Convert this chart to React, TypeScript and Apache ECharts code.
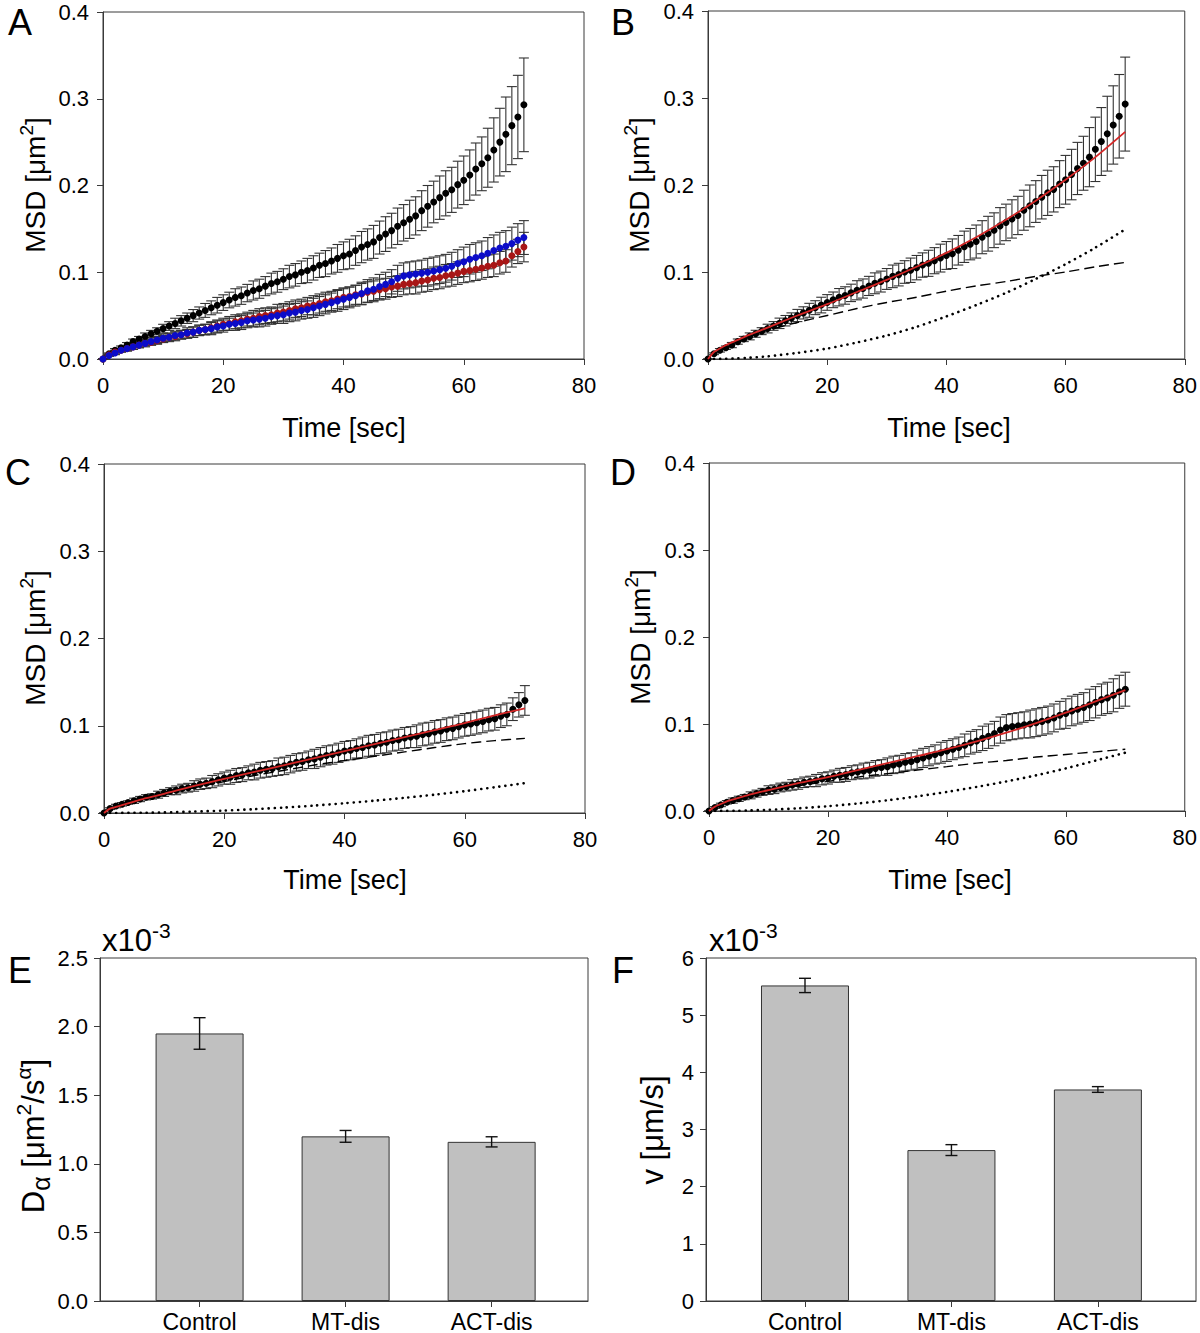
import React, { useEffect, useRef } from 'react';
import * as echarts from 'echarts';

const FONT = "'Liberation Sans', Arial, Helvetica, sans-serif";

// time points (s)
const TIME = [0, 1, 2, 3, 4, 5, 6, 7, 8, 9, 10, 11, 12, 13, 14, 15, 16, 17, 18, 19, 20, 21, 22, 23, 24, 25, 26, 27, 28, 29, 30, 31, 32, 33, 34, 35, 36, 37, 38, 39, 40, 41, 42, 43, 44, 45, 46, 47, 48, 49, 50, 51, 52, 53, 54, 55, 56, 57, 58, 59, 60, 61, 62, 63, 64, 65, 66, 67, 68, 69, 70];

// MSD means (um^2)
const MSD_CONTROL = [0, 0.006, 0.010, 0.013, 0.016, 0.020, 0.023, 0.026, 0.029, 0.032,
  0.035, 0.038, 0.041, 0.044, 0.047, 0.050, 0.053, 0.056, 0.059, 0.062,
  0.065, 0.068, 0.071, 0.073, 0.076, 0.079, 0.081, 0.084, 0.087, 0.089,
  0.092, 0.095, 0.097, 0.100, 0.102, 0.105, 0.108, 0.110, 0.113, 0.116,
  0.119, 0.121, 0.125, 0.129, 0.132, 0.135, 0.140, 0.144, 0.148, 0.153,
  0.157, 0.161, 0.165, 0.171, 0.176, 0.181, 0.186, 0.191, 0.195, 0.201,
  0.206, 0.212, 0.219, 0.225, 0.232, 0.241, 0.250, 0.259, 0.269, 0.279,
  0.293];
const ERR_CONTROL = [0, 0.001, 0.002, 0.002, 0.003, 0.003, 0.003, 0.004, 0.004, 0.004,
  0.005, 0.005, 0.006, 0.006, 0.006, 0.007, 0.007, 0.008, 0.008, 0.009,
  0.009, 0.009, 0.010, 0.010, 0.010, 0.011, 0.011, 0.011, 0.012, 0.012,
  0.012, 0.013, 0.013, 0.013, 0.014, 0.014, 0.014, 0.015, 0.015, 0.016,
  0.016, 0.017, 0.017, 0.018, 0.018, 0.019, 0.019, 0.020, 0.020, 0.021,
  0.021, 0.022, 0.022, 0.023, 0.024, 0.024, 0.025, 0.026, 0.026, 0.027,
  0.028, 0.029, 0.030, 0.031, 0.034, 0.037, 0.039, 0.043, 0.045, 0.048,
  0.054];

const MSD_MT = [0, 0.004, 0.007, 0.010, 0.012, 0.014, 0.016, 0.018, 0.020, 0.022,
  0.024, 0.025, 0.027, 0.028, 0.030, 0.031, 0.033, 0.034, 0.035, 0.037,
  0.038, 0.040, 0.041, 0.042, 0.044, 0.045, 0.046, 0.047, 0.049, 0.050,
  0.051, 0.053, 0.054, 0.056, 0.057, 0.059, 0.061, 0.063, 0.065, 0.067,
  0.069, 0.071, 0.073, 0.0755, 0.0785, 0.0805, 0.0835, 0.086, 0.089, 0.093,
  0.0958, 0.097, 0.098, 0.099, 0.100, 0.1015, 0.103, 0.1046, 0.107, 0.110,
  0.112, 0.115, 0.117, 0.119, 0.122, 0.125, 0.128, 0.130, 0.133, 0.137,
  0.140];
const ERR_MT = [0, 0.001, 0.002, 0.002, 0.003, 0.003, 0.003, 0.004, 0.004, 0.004,
  0.005, 0.005, 0.005, 0.005, 0.006, 0.006, 0.006, 0.006, 0.007, 0.007,
  0.007, 0.007, 0.008, 0.008, 0.008, 0.008, 0.009, 0.009, 0.009, 0.009,
  0.010, 0.010, 0.010, 0.010, 0.010, 0.011, 0.011, 0.011, 0.011, 0.012,
  0.012, 0.012, 0.012, 0.013, 0.013, 0.013, 0.014, 0.014, 0.014, 0.015,
  0.015, 0.015, 0.015, 0.015, 0.016, 0.016, 0.016, 0.016, 0.016, 0.016,
  0.017, 0.017, 0.017, 0.017, 0.018, 0.018, 0.018, 0.018, 0.019, 0.019,
  0.0195];

const MSD_ACT = [0, 0.005, 0.008, 0.010, 0.012, 0.014, 0.016, 0.018, 0.019, 0.021,
  0.023, 0.025, 0.026, 0.028, 0.029, 0.031, 0.033, 0.034, 0.036, 0.038,
  0.040, 0.041, 0.043, 0.044, 0.046, 0.047, 0.049, 0.050, 0.051, 0.053,
  0.054, 0.056, 0.058, 0.059, 0.061, 0.062, 0.064, 0.066, 0.067, 0.069,
  0.071, 0.072, 0.074, 0.075, 0.077, 0.078, 0.080, 0.081, 0.083, 0.084,
  0.086, 0.087, 0.088, 0.090, 0.091, 0.093, 0.094, 0.096, 0.097, 0.099,
  0.101, 0.102, 0.1035, 0.105, 0.107, 0.108, 0.111, 0.113, 0.119, 0.124,
  0.129];
const ERR_ACT = [0, 0.001, 0.002, 0.002, 0.002, 0.003, 0.003, 0.003, 0.003, 0.004,
  0.004, 0.004, 0.005, 0.005, 0.005, 0.006, 0.006, 0.006, 0.007, 0.007,
  0.007, 0.008, 0.008, 0.008, 0.008, 0.009, 0.009, 0.009, 0.009, 0.010,
  0.010, 0.010, 0.010, 0.010, 0.010, 0.011, 0.011, 0.011, 0.011, 0.011,
  0.011, 0.011, 0.011, 0.012, 0.012, 0.012, 0.012, 0.012, 0.012, 0.012,
  0.012, 0.012, 0.013, 0.013, 0.013, 0.013, 0.013, 0.013, 0.013, 0.013,
  0.013, 0.013, 0.013, 0.013, 0.013, 0.013, 0.013, 0.013, 0.013, 0.014,
  0.017];

// fit curves (sampled times)
const FIT_T = [0, 1, 2, 3, 5, 7, 10, 15, 20, 25, 30, 35, 40, 45, 50, 55, 60, 65, 70];
const FIT_B = [0, 0.008, 0.012, 0.016, 0.022, 0.028, 0.036, 0.050, 0.063, 0.077, 0.091, 0.106, 0.122, 0.140, 0.160, 0.182, 0.206, 0.232, 0.261];
const DIFF_B = [0, 0.008, 0.012, 0.016, 0.021, 0.026, 0.033, 0.042, 0.050, 0.058, 0.065, 0.071, 0.078, 0.084, 0.089, 0.095, 0.100, 0.106, 0.111];
const DIR_B = [0, 0, 0.0001, 0.0003, 0.0008, 0.0015, 0.003, 0.007, 0.012, 0.019, 0.027, 0.037, 0.049, 0.062, 0.076, 0.092, 0.109, 0.128, 0.149];
const FIT_C = [0, 0.005, 0.007, 0.009, 0.013, 0.017, 0.022, 0.031, 0.039, 0.047, 0.055, 0.063, 0.071, 0.079, 0.087, 0.095, 0.103, 0.112, 0.120];
const DIFF_C = [0, 0.005, 0.007, 0.009, 0.013, 0.016, 0.021, 0.029, 0.036, 0.043, 0.049, 0.055, 0.060, 0.065, 0.070, 0.075, 0.0795, 0.083, 0.0855];
const DIR_C = [0, 0, 0, 0.0001, 0.0002, 0.0003, 0.0007, 0.0016, 0.0028, 0.0044, 0.0063, 0.0085, 0.0112, 0.0141, 0.0174, 0.021, 0.025, 0.0295, 0.0342];
const FIT_D = [0, 0.005, 0.008, 0.011, 0.015, 0.019, 0.024, 0.032, 0.039, 0.047, 0.055, 0.063, 0.071, 0.080, 0.090, 0.101, 0.113, 0.126, 0.139];
const DIFF_D = [0, 0.006, 0.009, 0.011, 0.015, 0.018, 0.0225, 0.029, 0.034, 0.039, 0.043, 0.047, 0.051, 0.055, 0.058, 0.062, 0.065, 0.068, 0.071];
const DIR_D = [0, 0, 0.0001, 0.0001, 0.0003, 0.0007, 0.0014, 0.0031, 0.0055, 0.0086, 0.0123, 0.0168, 0.0219, 0.0277, 0.034, 0.041, 0.049, 0.058, 0.067];

// bar panels
const CATEGORIES = ['Control', 'MT-dis', 'ACT-dis'];
const BAR_POS = [0, 1, 2];
const D_ALPHA = [1.95, 1.20, 1.16];
const D_ALPHA_ERR = [0.115, 0.043, 0.037];
const VELOCITY = [5.52, 2.64, 3.70];
const VELOCITY_ERR = [0.125, 0.095, 0.05];

const GRIDS = [
  { left: 103, top: 12, width: 481, height: 347 },
  { left: 708, top: 11, width: 481, height: 348 },
  { left: 104, top: 464, width: 481, height: 349 },
  { left: 709, top: 463, width: 481, height: 348 },
  { left: 100, top: 958, width: 488, height: 348 },
  { left: 706, top: 958, width: 490, height: 348 },
];

const AXIS_COLOR = '#3a3a3a';
const ERR_COLOR = '#333333';

function errRender(capHalf: number, color: string, width: number) {
  return (params: any, api: any) => {
    const x = api.value(0);
    const lo = api.value(1);
    const hi = api.value(2);
    const pHi = api.coord([x, hi]);
    const pLo = api.coord([x, lo]);
    const st = { stroke: color, lineWidth: width };
    return {
      type: 'group',
      children: [
        { type: 'line', shape: { x1: pHi[0], y1: pHi[1], x2: pLo[0], y2: pLo[1] }, style: st },
        { type: 'line', shape: { x1: pHi[0] - capHalf, y1: pHi[1], x2: pHi[0] + capHalf, y2: pHi[1] }, style: st },
        { type: 'line', shape: { x1: pLo[0] - capHalf, y1: pLo[1], x2: pLo[0] + capHalf, y2: pLo[1] }, style: st },
      ],
    };
  };
}

function errSeries(idx: number, mean: number[], err: number[], xs: number[], capHalf: number, color: string, width: number, z: number) {
  return {
    type: 'custom',
    xAxisIndex: idx,
    yAxisIndex: idx,
    silent: true,
    z,
    renderItem: errRender(capHalf, color, width),
    encode: { x: 0, y: [1, 2] },
    data: xs.map((t, i) => [t, mean[i] - err[i], mean[i] + err[i]]),
  };
}

function dotSeries(idx: number, mean: number[], color: string) {
  return {
    type: 'scatter',
    xAxisIndex: idx,
    yAxisIndex: idx,
    silent: true,
    z: 3,
    symbol: 'circle',
    symbolSize: 7,
    itemStyle: { color, opacity: 1 },
    data: TIME.map((t, i) => [t, mean[i]]),
  };
}

function lineSeries(idx: number, ys: number[], lineStyle: any, z: number) {
  return {
    type: 'line',
    xAxisIndex: idx,
    yAxisIndex: idx,
    silent: true,
    z,
    smooth: 0.25,
    showSymbol: false,
    symbol: 'none',
    lineStyle,
    data: FIT_T.map((t, i) => [t, ys[i]]),
  };
}

const FIT_STYLE = { color: '#d42626', width: 1.8 };
const DASH_STYLE = { color: '#000', width: 1.4, type: [10, 5] };
const DOT_STYLE = { color: '#000', width: 2.6, type: [0.1, 6], cap: 'round' };

const TICK_FONT = 22;

function msdXAxis(idx: number) {
  return {
    type: 'value',
    gridIndex: idx,
    min: 0,
    max: 80,
    interval: 20,
    axisLine: { show: true, onZero: false, lineStyle: { color: AXIS_COLOR, width: 1 } },
    axisTick: { show: true, inside: false, length: 6, lineStyle: { color: AXIS_COLOR } },
    axisLabel: { show: true, fontSize: TICK_FONT, color: '#000', margin: 15, fontFamily: FONT, formatter: (v: number) => String(v) },
    splitLine: { show: false },
  };
}

function msdYAxis(idx: number) {
  return {
    type: 'value',
    gridIndex: idx,
    min: 0,
    max: 0.4,
    interval: 0.1,
    axisLine: { show: true, onZero: false, lineStyle: { color: AXIS_COLOR, width: 1 } },
    axisTick: { show: true, inside: false, length: 6, lineStyle: { color: AXIS_COLOR } },
    axisLabel: { show: true, fontSize: TICK_FONT, color: '#000', margin: 14, fontFamily: FONT, formatter: (v: number) => v.toFixed(1) },
    splitLine: { show: false },
  };
}

function catXAxis(idx: number, min: number, max: number) {
  return {
    type: 'value',
    gridIndex: idx,
    min,
    max,
    axisLine: { show: true, onZero: false, lineStyle: { color: AXIS_COLOR, width: 1 } },
    axisTick: { show: true, inside: false, length: 6, customValues: BAR_POS, lineStyle: { color: AXIS_COLOR } },
    axisLabel: {
      show: true, fontSize: 23, color: '#000', margin: 9, fontFamily: FONT,
      customValues: BAR_POS,
      formatter: (v: number) => CATEGORIES[Math.round(v)] ?? '',
    },
    splitLine: { show: false },
  };
}

function barYAxis(idx: number, max: number, interval: number, digits: number) {
  return {
    type: 'value',
    gridIndex: idx,
    min: 0,
    max,
    interval,
    axisLine: { show: true, onZero: false, lineStyle: { color: AXIS_COLOR, width: 1 } },
    axisTick: { show: true, inside: false, length: 6, lineStyle: { color: AXIS_COLOR } },
    axisLabel: { show: true, fontSize: TICK_FONT, color: '#000', margin: 12, fontFamily: FONT, formatter: (v: number) => v.toFixed(digits) },
    splitLine: { show: false },
  };
}

function barSeries(idx: number, vals: number[]) {
  return {
    type: 'bar',
    xAxisIndex: idx,
    yAxisIndex: idx,
    silent: true,
    barWidth: 88,
    z: 2,
    itemStyle: { color: '#c0c0c0', borderColor: '#333', borderWidth: 1 },
    data: BAR_POS.map((p, i) => [p, vals[i]]),
  };
}

const MAIN = { fontSize: 28, fontFamily: FONT, fill: '#000', lineHeight: 36 };
const SUP = { fontSize: 19, fontFamily: FONT, fill: '#000', verticalAlign: 'top', lineHeight: 19 };
const MAIN_L = { fontSize: 31, fontFamily: FONT, fill: '#000', lineHeight: 40 };
const SUP_L = { fontSize: 21, fontFamily: FONT, fill: '#000', verticalAlign: 'top', lineHeight: 21 };
const SUB_L = { fontSize: 25, fontFamily: FONT, fill: '#000', verticalAlign: 'bottom', lineHeight: 30 };

function vText(x: number, y: number, text: string, large = false) {
  return {
    type: 'text', x, y, rotation: Math.PI / 2,
    style: {
      text,
      rich: large ? { m: MAIN_L, s: SUP_L, b: SUB_L } : { m: MAIN, s: SUP },
      align: 'center', verticalAlign: 'middle',
    },
  };
}
function hText(x: number, y: number, text: string, fontSize: number, align = 'center') {
  return {
    type: 'text', x, y,
    style: { text, font: `${fontSize}px ${FONT}`, fill: '#000', align, verticalAlign: 'middle' },
  };
}
function expText(x: number, y: number) {
  return {
    type: 'text', x, y,
    style: { text: '{m|x10}{s|-3}', rich: { m: MAIN_L, s: SUP_L }, align: 'left', verticalAlign: 'middle' },
  };
}

function buildOption() {
  const graphic = [
    hText(20, 22, 'A', 36), hText(623, 22, 'B', 36),
    hText(18, 472, 'C', 36), hText(623, 472, 'D', 36),
    hText(20, 970, 'E', 36), hText(623, 970, 'F', 36),
    hText(344, 428, 'Time [sec]', 27), hText(949, 428, 'Time [sec]', 27),
    hText(345, 880, 'Time [sec]', 27), hText(950, 880, 'Time [sec]', 27),
    vText(35, 185, '{m|MSD [μm}{s|2}{m|]}'), vText(639, 185, '{m|MSD [μm}{s|2}{m|]}'),
    vText(35, 638, '{m|MSD [μm}{s|2}{m|]}'), vText(640, 637, '{m|MSD [μm}{s|2}{m|]}'),
    vText(33, 1136, '{m|D}{b|α}{m| [μm}{s|2}{m|/s}{s|α}{m|]}', true),
    vText(652, 1130, '{m|v [μm/s]}', true),
    expText(102, 940), expText(709, 940),
  ];

  return {
    animation: false,
    backgroundColor: '#ffffff',
    textStyle: { fontFamily: FONT },
    grid: GRIDS.map((g) => ({ ...g, show: true, borderColor: AXIS_COLOR, borderWidth: 1, backgroundColor: 'transparent', containLabel: false })),
    xAxis: [msdXAxis(0), msdXAxis(1), msdXAxis(2), msdXAxis(3), catXAxis(4, -0.682, 2.66), catXAxis(5, -0.676, 2.67)],
    yAxis: [msdYAxis(0), msdYAxis(1), msdYAxis(2), msdYAxis(3), barYAxis(4, 2.5, 0.5, 1), barYAxis(5, 6, 1, 0)],
    graphic,
    series: [
      // Panel A
      errSeries(0, MSD_CONTROL, ERR_CONTROL, TIME, 5, ERR_COLOR, 1.1, 2),
      errSeries(0, MSD_ACT, ERR_ACT, TIME, 5, ERR_COLOR, 1.1, 2),
      errSeries(0, MSD_MT, ERR_MT, TIME, 5, ERR_COLOR, 1.1, 2),
      dotSeries(0, MSD_CONTROL, '#000000'),
      dotSeries(0, MSD_ACT, '#a81616'),
      dotSeries(0, MSD_MT, '#0c0cc8'),
      // Panel B
      errSeries(1, MSD_CONTROL, ERR_CONTROL, TIME, 5, ERR_COLOR, 1.1, 2),
      dotSeries(1, MSD_CONTROL, '#000000'),
      lineSeries(1, DIFF_B, DASH_STYLE, 4),
      lineSeries(1, DIR_B, DOT_STYLE, 4),
      lineSeries(1, FIT_B, FIT_STYLE, 5),
      // Panel C
      errSeries(2, MSD_ACT, ERR_ACT, TIME, 5, ERR_COLOR, 1.1, 2),
      dotSeries(2, MSD_ACT, '#000000'),
      lineSeries(2, DIFF_C, DASH_STYLE, 4),
      lineSeries(2, DIR_C, DOT_STYLE, 4),
      lineSeries(2, FIT_C, FIT_STYLE, 5),
      // Panel D
      errSeries(3, MSD_MT, ERR_MT, TIME, 5, ERR_COLOR, 1.1, 2),
      dotSeries(3, MSD_MT, '#000000'),
      lineSeries(3, DIFF_D, DASH_STYLE, 4),
      lineSeries(3, DIR_D, DOT_STYLE, 4),
      lineSeries(3, FIT_D, FIT_STYLE, 5),
      // Panel E
      barSeries(4, D_ALPHA),
      errSeries(4, D_ALPHA, D_ALPHA_ERR, BAR_POS, 6, '#111', 1.4, 6),
      // Panel F
      barSeries(5, VELOCITY),
      errSeries(5, VELOCITY, VELOCITY_ERR, BAR_POS, 6, '#111', 1.4, 6),
    ],
  };
}

export default function App() {
  const ref = useRef<HTMLDivElement>(null);
  useEffect(() => {
    const chart = echarts.init(ref.current as HTMLDivElement, null, { renderer: 'svg' });
    chart.setOption(buildOption() as any);
    return () => chart.dispose();
  }, []);
  return (
    <div
      ref={ref}
      style={{ position: 'absolute', left: 0, top: 0, width: 1200, height: 1333, background: '#fff' }}
    />
  );
}
